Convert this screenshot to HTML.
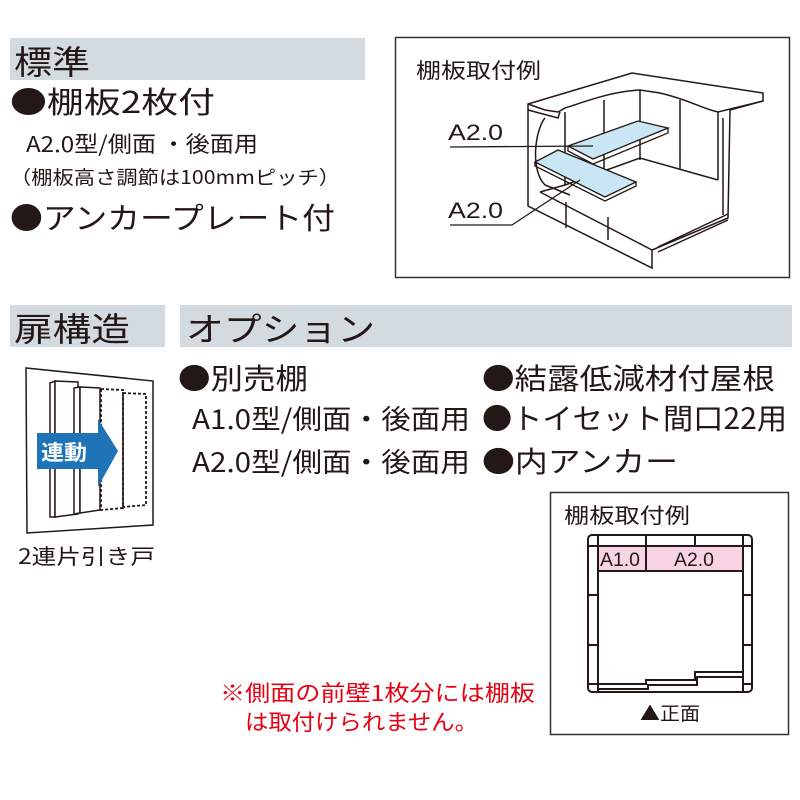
<!DOCTYPE html>
<html><head><meta charset="utf-8"><style>
body{margin:0;width:800px;height:800px;background:#fff;overflow:hidden;font-family:"Liberation Sans","Noto Sans CJK JP",sans-serif;color:#231815}
svg{position:absolute;left:0;top:0}
</style></head><body>
<svg width="800" height="800" viewBox="0 0 800 800" font-family="Liberation Sans, Noto Sans CJK JP, sans-serif" fill="#231815">
<rect x="10" y="38" width="355" height="42" fill="#d3dbe1"/>
<rect x="10" y="305" width="155" height="42" fill="#d3dbe1"/>
<rect x="180" y="305" width="612" height="42" fill="#d3dbe1"/>
<text x="14" y="74" font-size="33" textLength="76" lengthAdjust="spacingAndGlyphs">標準</text>
<text x="14" y="341" font-size="33" textLength="116" lengthAdjust="spacingAndGlyphs">扉構造</text>
<text x="186" y="341" font-size="33" textLength="189" lengthAdjust="spacingAndGlyphs">オプション</text>

<g font-family="Noto Sans CJK JP, sans-serif">
<text x="10" y="113" font-size="30" textLength="205" lengthAdjust="spacingAndGlyphs">●棚板2枚付</text>
<text x="26" y="152" font-size="22" textLength="232" lengthAdjust="spacingAndGlyphs">A2.0型/側面 ・後面用</text>
<text x="10" y="184" font-size="19" textLength="330" lengthAdjust="spacingAndGlyphs">（棚板高さ調節は100mmピッチ）</text>
<text x="10" y="229" font-size="30" textLength="325" lengthAdjust="spacingAndGlyphs">●アンカープレート付</text>

<text x="178" y="389" font-size="29" textLength="130" lengthAdjust="spacingAndGlyphs">●別売棚</text>
<text x="192" y="429" font-size="27" textLength="278" lengthAdjust="spacingAndGlyphs">A1.0型/側面・後面用</text>
<text x="192" y="472" font-size="27" textLength="278" lengthAdjust="spacingAndGlyphs">A2.0型/側面・後面用</text>
<text x="482" y="389" font-size="29" textLength="293" lengthAdjust="spacingAndGlyphs">●結露低減材付屋根</text>
<text x="482" y="429" font-size="29" textLength="305" lengthAdjust="spacingAndGlyphs">●トイセット間口22用</text>
<text x="482" y="472" font-size="29" textLength="196" lengthAdjust="spacingAndGlyphs">●内アンカー</text>

<text x="416" y="78" font-size="21" textLength="125" lengthAdjust="spacingAndGlyphs">棚板取付例</text>
<text x="564" y="523" font-size="21" textLength="126" lengthAdjust="spacingAndGlyphs">棚板取付例</text>
<text x="18" y="564" font-size="21" textLength="137" lengthAdjust="spacingAndGlyphs">2連片引き戸</text>
<text x="640" y="720" font-size="19" textLength="60" lengthAdjust="spacingAndGlyphs">▲正面</text>
<text x="220" y="701" font-size="22" fill="#e60012" textLength="315" lengthAdjust="spacingAndGlyphs">※側面の前壁1枚分には棚板</text>
<text x="245" y="730" font-size="22" fill="#e60012" textLength="233" lengthAdjust="spacingAndGlyphs">は取付けられません。</text>
</g>

<rect x="395.5" y="37.5" width="394" height="240" fill="none" stroke="#333" stroke-width="1.5"/>
<g fill="none" stroke="#231815" stroke-width="1.5">
<path d="M528,104 L632,73 L763,93 L763,101 L730,110 L728,218 L652,250 L652,268 L528,206 Z" fill="#fff"/>
<path d="M528,104 L545,110 L558,112 L565,108 C590,100 610,92 640,90 L660,93 C690,100 700,108 718,112 L763,101"/>
<path d="M528,110 L558,118 L560,112"/>
<path d="M565,112 L565,185"/>
<path d="M604,100 L604,175"/>
<path d="M640,90 L640,160"/>
<path d="M680,100 L680,170"/>
<path d="M718,112 L718,180"/>
<path d="M718,180 L640,158 L565,185"/>
<path d="M545,118 C535,130 530,170 545,185 L570,195"/>
<path d="M540,192 L652,250"/>
<path d="M540,192 L565,185"/>
<path d="M566,202 L566,228 M608,217 L608,240"/>
<path d="M658,247 L728,214 M658,252 L728,220"/>
<path d="M723,118 L723,215"/>
</g>
<polygon points="568,146 638,121 668,128 593,159" fill="#c9e6f4" stroke="#231815" stroke-width="1.3"/>
<path d="M568,146 L568,151 L593,164 L668,133 L668,128" fill="none" stroke="#231815" stroke-width="1.3"/>
<polygon points="535,162 558,150 636,182 605,197" fill="#c9e6f4" stroke="#231815" stroke-width="1.3"/>
<path d="M535,162 L535,166 L605,201 L636,186 L636,182" fill="none" stroke="#231815" stroke-width="1.3"/>
<text x="448" y="140" font-size="22" textLength="55" lengthAdjust="spacingAndGlyphs">A2.0</text>
<path d="M450,147 L593,146" stroke="#231815" stroke-width="1.3" fill="none"/>
<text x="448" y="218" font-size="22" textLength="55" lengthAdjust="spacingAndGlyphs">A2.0</text>
<path d="M450,225 L512,225 L580,180" stroke="#231815" stroke-width="1.3" fill="none"/>

<polygon points="26,368 153,381 153,525 27,533" fill="#fff" stroke="#231815" stroke-width="1.5"/>
<g fill="#fff" stroke="#231815" stroke-width="1.5">
<polygon points="50,383 55,381 55,517 50,517"/>
<polygon points="55,381 78,382 78,514 55,517"/>
<polygon points="74,388 80,387 80,513 74,514"/>
<polygon points="80,387 100,388 100,510 80,513"/>
</g>
<polygon points="101,389 123,390 123,508 101,510" fill="none" stroke="#231815" stroke-width="1.8" stroke-dasharray="3,2"/>
<polygon points="123,393 146,394 146,505 123,507" fill="none" stroke="#231815" stroke-width="1.8" stroke-dasharray="3,2"/>
<polygon points="37,433 98,433 98,419 118,451 98,487 98,469 37,469" fill="#1f73b7"/>
<text x="41" y="460" font-size="21" font-weight="bold" fill="#fff" font-family="Noto Sans CJK JP, sans-serif" textLength="46" lengthAdjust="spacingAndGlyphs">連動</text>

<rect x="550.5" y="492.5" width="238" height="242" fill="none" stroke="#333" stroke-width="1.5"/>
<g fill="none" stroke="#231815" stroke-width="2">
<rect x="588" y="535" width="164" height="157" rx="4" fill="#fff"/>
<rect x="598" y="546" width="145" height="25" fill="#f7d3e4"/>
<path d="M598,535 V692 M743,535 V692 M588,546 H752 M646,535 V571 M695,535 V546"/>
<path d="M588,595 H598 M588,645 H598 M743,595 H752 M743,645 H752 M588,684 H598 M743,684 H752"/>
<path d="M598,684 H646 V680 H695 V672 H743 M598,689 H648 V685 H697 V677 H743"/>
</g>
<text x="600" y="566" font-size="19" textLength="40" lengthAdjust="spacingAndGlyphs">A1.0</text>
<text x="674" y="566" font-size="19" textLength="40" lengthAdjust="spacingAndGlyphs">A2.0</text>
</svg>
</body></html>
